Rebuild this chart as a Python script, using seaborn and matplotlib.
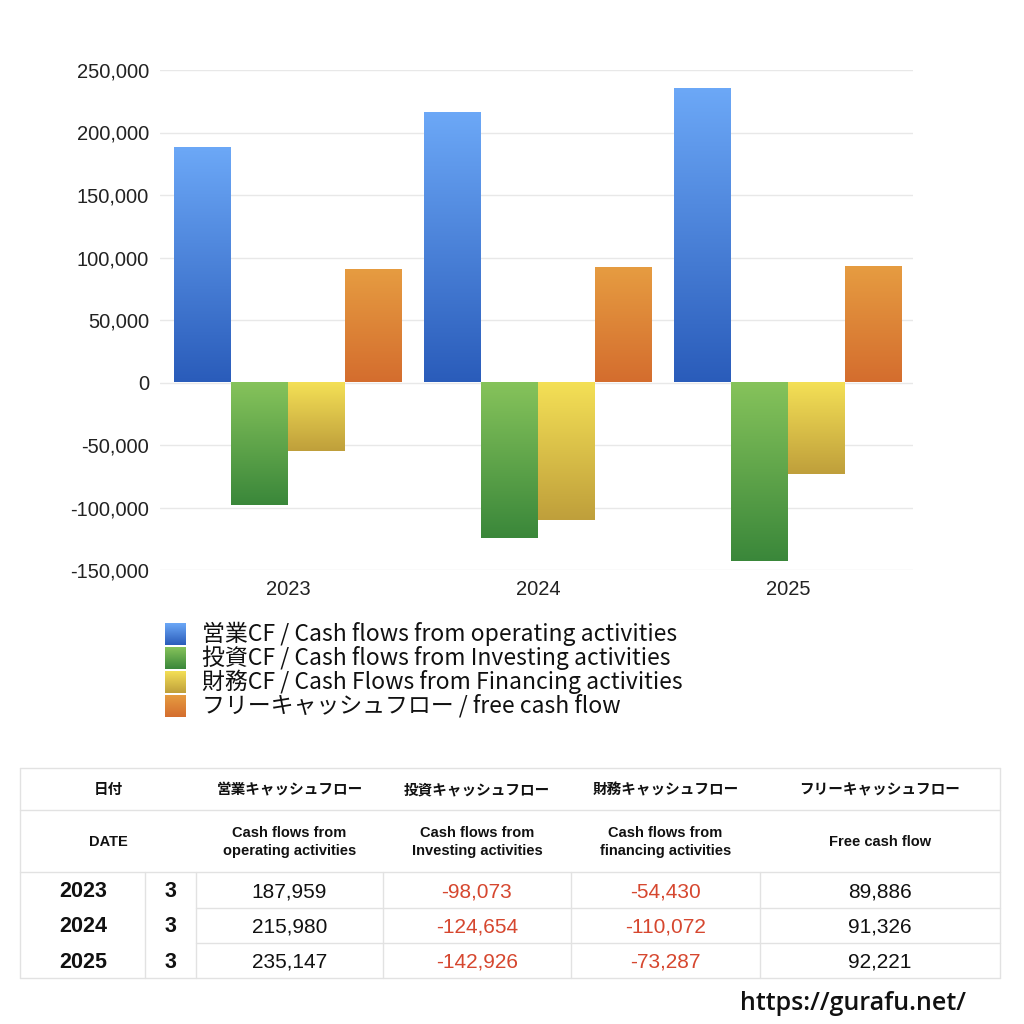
import numpy as np
import pandas as pd
import matplotlib
matplotlib.use("Agg")
import matplotlib.pyplot as plt
import seaborn as sns
from matplotlib.colors import LinearSegmentedColormap
from matplotlib.ticker import FuncFormatter

years = ["2023", "2024", "2025"]
months = ["3", "3", "3"]
operating_cf = [187959, 215980, 235147]
investing_cf = [-98073, -124654, -142926]
financing_cf = [-54430, -110072, -73287]
free_cf = [89886, 91326, 92221]

series_labels = [
    "営業CF / Cash flows from operating activities",
    "投資CF / Cash flows from Investing activities",
    "財務CF / Cash Flows from Financing activities",
    "フリーキャッシュフロー / free cash flow",
]
header_jp = ["日付", "営業キャッシュフロー", "投資キャッシュフロー",
             "財務キャッシュフロー", "フリーキャッシュフロー"]
header_en = ["DATE", "Cash flows from\noperating activities",
             "Cash flows from\nInvesting activities",
             "Cash flows from\nfinancing activities", "Free cash flow"]

# (bottom colour, top colour) for each series gradient
gradients = [
    ("#2a5cba", "#6ca8f7"),
    ("#3a873a", "#86c35b"),
    ("#bf9f3b", "#f4e056"),
    ("#d46d2e", "#e69c41"),
]
neg_color = "#d6472f"
line_color = "#e2e2e2"

sns.set_theme(style="white")
plt.rcParams["font.family"] = ["Liberation Sans", "Noto Sans CJK JP",
                               "DejaVu Sans"]

all_series = [operating_cf, investing_cf, financing_cf, free_cf]
df = pd.DataFrame({
    "year": np.repeat([years], 4, axis=0).ravel(),
    "series": np.repeat(series_labels, 3),
    "value": np.concatenate(all_series),
})

fig = plt.figure(figsize=(10.24, 10.24), dpi=100)
ax = fig.add_axes([160 / 1024, 454 / 1024, 753 / 1024, 500 / 1024])

sns.barplot(data=df, x="year", y="value", hue="series",
            hue_order=series_labels, palette=[g[1] for g in gradients],
            width=0.91, legend=False, ax=ax, zorder=2)

grad = np.linspace(0, 1, 256).reshape(-1, 1)
cmaps = [LinearSegmentedColormap.from_list(f"g{i}", g)
         for i, g in enumerate(gradients)]

for i, cont in enumerate(ax.containers):
    for bar in cont:
        x0 = bar.get_x()
        x1 = x0 + bar.get_width()
        y_a = bar.get_y()
        y_b = y_a + bar.get_height()
        ax.imshow(grad, extent=[x0, x1, min(y_a, y_b), max(y_a, y_b)],
                  origin="lower", aspect="auto", cmap=cmaps[i], zorder=2)
        bar.set_visible(False)

ax.set_xlim(-0.512, 2.5)
ax.set_ylim(-150000, 250000)
ax.set_yticks(np.arange(-150000, 250001, 50000))
ax.yaxis.set_major_formatter(FuncFormatter(lambda v, p: f"{int(v):,}"))
ax.yaxis.grid(True, color="#e8e8e8", linewidth=1)
ax.set_axisbelow(True)
for s in ax.spines.values():
    s.set_visible(False)
ax.tick_params(axis="both", length=0, labelsize=14.5, colors="#222222")
ax.tick_params(axis="y", pad=8)
ax.tick_params(axis="x", pad=7)
ax.set_xlabel("")
ax.set_ylabel("")

# overlay in pixel coordinates for legend, table and watermark
ov = fig.add_axes([0, 0, 1, 1])
ov.axis("off")

for i, label in enumerate(series_labels):
    yc = 634 + 24 * i
    ov.imshow(grad, extent=[165, 186, yc + 11, yc - 11], origin="lower",
              aspect="auto", cmap=cmaps[i])
    ov.text(202, yc, label, va="center", ha="left", fontsize=16.5,
            family=["Noto Sans CJK JP", "DejaVu Sans"], color="#111111")
ov.set_xlim(0, 1024)
ov.set_ylim(1024, 0)

# table
col_edges = [20, 145, 196, 383, 571, 760, 1000]
row_edges = [768, 810, 872, 908, 943, 978]

def hline(y, xa, xb):
    ov.plot([xa, xb], [y, y], color=line_color, lw=1)

def vline(x, ya, yb):
    ov.plot([x, x], [ya, yb], color=line_color, lw=1)

hline(768, 20, 1000)
hline(810, 20, 1000)
hline(872, 20, 1000)
hline(908, 196, 1000)
hline(943, 196, 1000)
hline(978, 20, 1000)
vline(20, 768, 978)
vline(1000, 768, 978)
for x in col_edges[1:-1]:
    vline(x, 872, 978)

centers = [(20 + 196) / 2] + [(col_edges[k] + col_edges[k + 1]) / 2
                              for k in range(2, 6)]
for cx, jp, en in zip(centers, header_jp, header_en):
    ov.text(cx, 789, jp, ha="center", va="center", fontsize=10.5,
            fontweight="bold", family=["Noto Sans CJK JP", "DejaVu Sans"],
            color="#111111")
    ov.text(cx, 842, en, ha="center", va="center", fontsize=10.5,
            fontweight="bold", color="#111111", linespacing=1.4)

value_cols = [operating_cf, investing_cf, financing_cf, free_cf]
for r, (yr, mo) in enumerate(zip(years, months)):
    yb = (row_edges[r + 2] + row_edges[r + 3]) / 2 + 7
    ov.text(83, yb, yr, ha="center", va="baseline", fontsize=15.5,
            fontweight="bold", color="#111111")
    ov.text(170, yb, mo, ha="center", va="baseline", fontsize=15.5,
            fontweight="bold", color="#111111")
    for k, vals in enumerate(value_cols):
        cx = (col_edges[k + 2] + col_edges[k + 3]) / 2
        v = vals[r]
        ov.text(cx, yb, f"{v:,}", ha="center", va="baseline", fontsize=15,
                color=neg_color if v < 0 else "#111111")

ov.text(853, 1010, "https://gurafu.net/", ha="center", va="baseline",
        fontsize=18, fontweight="semibold", family="Open Sans",
        color="#111111")

plt.savefig("out.png", dpi=100)
plt.close()
